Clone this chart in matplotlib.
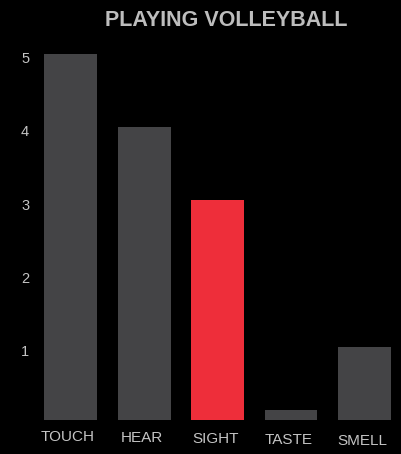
import matplotlib.pyplot as plt
import matplotlib.transforms as mtransforms

# Senses used while playing volleyball
senses = ['TOUCH', 'HEAR', 'SIGHT', 'TASTE', 'SMELL']
scores = [5.0, 4.0, 3.0, 0.13, 1.0]
highlight = 'SIGHT'
yticks = [1, 2, 3, 4, 5]

plt.rcParams['font.family'] = ['Liberation Sans', 'DejaVu Sans']

grey = '#444446'
red = '#ee2e3a'
text_col = '#c4c4c4'

fig = plt.figure(figsize=(4.01, 4.54), dpi=100, facecolor='black')
ax = fig.add_axes([0.085, 0.075, 0.915, 0.807], facecolor='black')

colors = [red if s == highlight else grey for s in senses]
x = list(range(len(senses)))
ax.bar(x, scores, width=0.72, color=colors)

ax.set_xlim(-0.5, len(senses) - 0.5)
ax.set_ylim(0, 5)
for side in ax.spines.values():
    side.set_visible(False)

ax.set_yticks(yticks)
ax.set_yticklabels([str(t) for t in yticks])
ax.tick_params(axis='y', length=0, colors=text_col, labelsize=10.5, pad=3.5)
shift = mtransforms.ScaledTranslation(0, -4 / 100, fig.dpi_scale_trans)
for lbl in ax.get_yticklabels():
    lbl.set_transform(lbl.get_transform() + shift)

# x labels sit slightly staggered below the bars
ax.set_xticks([])
for i, name in enumerate(senses):
    off = mtransforms.ScaledTranslation(-3 / 100 if i == 0 else -2 / 100, -(17 + i) / 100, fig.dpi_scale_trans)
    ax.text(i, 0, name, transform=ax.get_xaxis_transform() + off,
            ha='center', va='center', color=text_col, fontsize=11)

fig.text(226 / 401, 1 - 21 / 454, 'PLAYING VOLLEYBALL', ha='center', va='center',
         color='#bdbdbd', fontsize=15.5, fontweight='bold')

fig.savefig('out.png', dpi=100, facecolor='black')
